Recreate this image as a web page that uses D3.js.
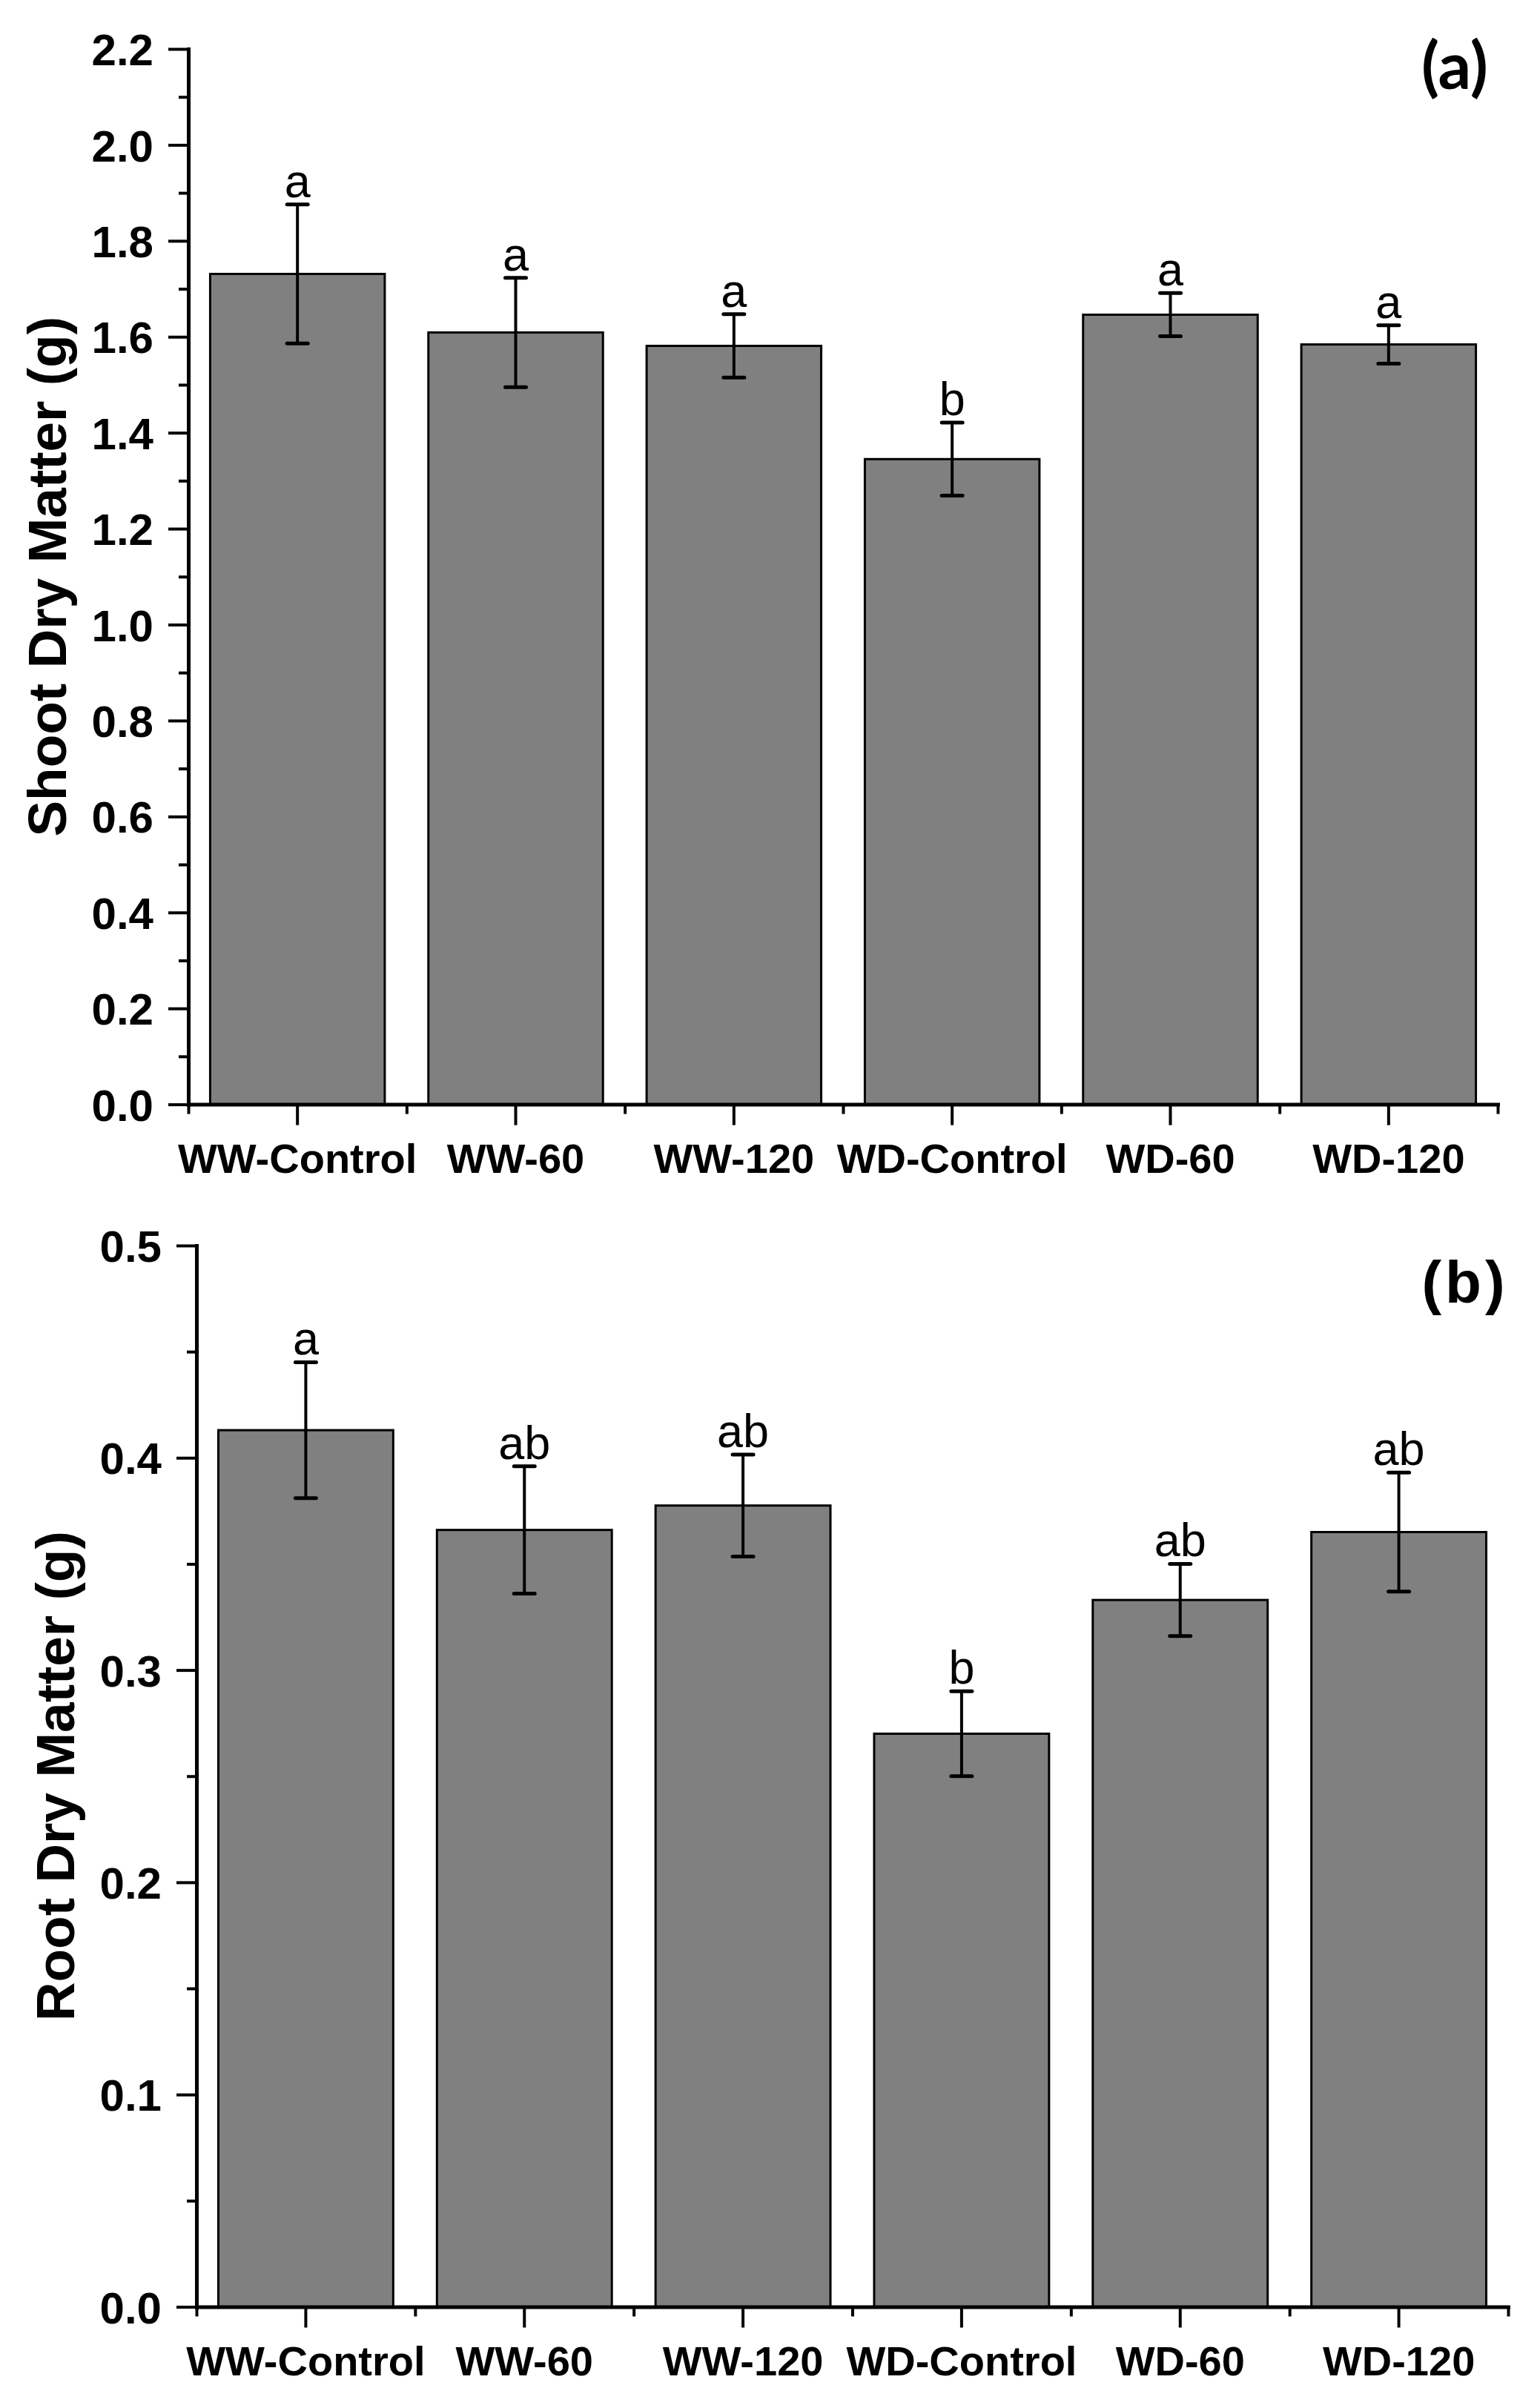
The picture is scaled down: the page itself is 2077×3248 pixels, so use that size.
<!DOCTYPE html>
<html>
<head>
<meta charset="utf-8">
<script src="https://cdn.jsdelivr.net/npm/d3@7"></script>
<style>
  body { margin: 0; background: #fff; }
  svg { display: block; }
  .tick-label { font-family: "Liberation Sans", Arial, sans-serif; font-weight: bold; }
  .letter { font-family: "Liberation Sans", Arial, sans-serif; }
  .panel-tag { font-family: Lato, "Open Sans", sans-serif; font-weight: bold; }
  .panel-tag.arial { font-family: "Liberation Sans", Arial, sans-serif; letter-spacing: 5px; }
</style>
</head>
<body>
<div id="chart"></div>
<script>
/*=====================================================================
 data
======================================================================*/
var categories = ["WW-Control", "WW-60", "WW-120", "WD-Control", "WD-60", "WD-120"];

// (a) shoot dry matter
var shootMean = [1.731, 1.609, 1.581, 1.345, 1.646, 1.584];
var shootErr = [0.145, 0.114, 0.066, 0.076, 0.045, 0.040];
var shootLetters = ["a", "a", "a", "b", "a", "a"];
var shootTicks = [0.0, 0.2, 0.4, 0.6, 0.8, 1.0, 1.2, 1.4, 1.6, 1.8, 2.0, 2.2];

// (b) root dry matter
var rootMean = [0.413, 0.366, 0.3775, 0.270, 0.333, 0.365];
var rootErr = [0.032, 0.030, 0.024, 0.020, 0.017, 0.028];
var rootLetters = ["a", "ab", "ab", "b", "ab", "ab"];
var rootTicks = [0.0, 0.1, 0.2, 0.3, 0.4, 0.5];

/*=====================================================================
 chart dimensions
======================================================================*/
var width = 2077;
var height = 3248;

var svg = d3.select("#chart")
    .append("svg")
    .attr("width", width)
    .attr("height", height);

svg.append("rect")
    .attr("width", width)
    .attr("height", height)
    .attr("fill", "#fff");

/*=====================================================================
 drawPanel()
 one bar chart with error bars, letters and axes
======================================================================*/
function drawPanel(opts) {
    var g = svg.append("g");

    var x = d3.scaleBand()
        .domain(categories)
        .range([opts.left, opts.right])
        .paddingInner(0.2)
        .paddingOuter(0.1);

    var xEdges = d3.scaleLinear()
        .domain([0, categories.length])
        .range([opts.left, opts.right]);

    var y = d3.scaleLinear()
        .domain([0, opts.max])
        .range([opts.bottom, opts.top]);

    var rows = categories.map(function (c, i) {
        return { name: c, mean: opts.mean[i], err: opts.err[i], letter: opts.letters[i] };
    });

    // bars
    g.selectAll(".bar")
        .data(rows)
        .enter()
        .append("rect")
        .attr("class", "bar")
        .attr("x", function (d) { return x(d.name); })
        .attr("y", function (d) { return y(d.mean); })
        .attr("width", x.bandwidth())
        .attr("height", function (d) { return y(0) - y(d.mean); })
        .attr("fill", "#808080")
        .attr("stroke", "#000")
        .attr("stroke-width", 3);

    // error bars
    var eb = g.selectAll(".err")
        .data(rows)
        .enter()
        .append("g")
        .attr("class", "err")
        .attr("transform", function (d) { return "translate(" + (x(d.name) + x.bandwidth() / 2) + ",0)"; });

    eb.append("line")
        .attr("y1", function (d) { return y(d.mean + d.err); })
        .attr("y2", function (d) { return y(d.mean - d.err); })
        .attr("stroke", "#000")
        .attr("stroke-width", 4);

    [1, -1].forEach(function (s) {
        eb.append("line")
            .attr("x1", -14)
            .attr("x2", 14)
            .attr("y1", function (d) { return y(d.mean + s * d.err); })
            .attr("y2", function (d) { return y(d.mean + s * d.err); })
            .attr("stroke", "#000")
            .attr("stroke-width", 5)
            .attr("stroke-linecap", "round");
    });

    // significance letters
    g.selectAll(".letter")
        .data(rows)
        .enter()
        .append("text")
        .attr("class", "letter")
        .attr("x", function (d) { return x(d.name) + x.bandwidth() / 2; })
        .attr("y", function (d) { return y(d.mean + d.err) - 10; })
        .attr("text-anchor", "middle")
        .attr("font-size", 63)
        .attr("fill", "#000")
        .text(function (d) { return d.letter; });

    // y axis, minor then major
    g.append("g")
        .attr("transform", "translate(" + opts.left + ",0)")
        .call(d3.axisLeft(y).tickValues(opts.minor).tickSize(13).tickSizeOuter(0).tickFormat(""))
        .call(styleAxis);

    var yAxis = g.append("g")
        .attr("transform", "translate(" + opts.left + ",0)")
        .call(d3.axisLeft(y).tickValues(opts.ticks).tickSize(27).tickSizeOuter(0).tickPadding(20).tickFormat(d3.format(".1f")))
        .call(styleAxis);

    yAxis.selectAll("text")
        .attr("class", "tick-label")
        .attr("font-size", 60)
        .attr("dy", "0.36em");

    // x axis, band edges then category centres
    g.append("g")
        .attr("transform", "translate(0," + opts.bottom + ")")
        .call(d3.axisBottom(xEdges).ticks(categories.length).tickSize(13).tickSizeOuter(0).tickFormat(""))
        .call(styleAxis);

    var xAxis = g.append("g")
        .attr("transform", "translate(0," + opts.bottom + ")")
        .call(d3.axisBottom(x).tickSize(28).tickSizeOuter(0).tickPadding(25))
        .call(styleAxis);

    xAxis.select(".domain").remove();

    xAxis.selectAll("text")
        .attr("class", "tick-label")
        .attr("font-size", 56);

    // axis title
    g.append("text")
        .attr("class", "tick-label")
        .attr("transform", "translate(" + (opts.left - 165) + "," + ((opts.top + opts.bottom) / 2) + ") rotate(-90)")
        .attr("text-anchor", "middle")
        .attr("font-size", 73)
        .attr("fill", "#000")
        .text(opts.title);

    // panel tag
    g.append("text")
        .attr("class", "panel-tag " + opts.tagClass)
        .attr("x", opts.right - 58)
        .attr("y", opts.tagY)
        .attr("text-anchor", "middle")
        .attr("font-size", opts.tagSize)
        .attr("fill", "#000")
        .text(opts.tag);
}

function styleAxis(sel) {
    sel.select(".domain")
        .attr("stroke", "#000")
        .attr("stroke-width", 5)
        .attr("stroke-linecap", "square");
    sel.selectAll(".tick line")
        .attr("stroke", "#000")
        .attr("stroke-width", 4);
    sel.selectAll(".tick text")
        .attr("fill", "#000");
}

/*=====================================================================
 draw both panels
======================================================================*/
drawPanel({
    left: 254, right: 2020, top: 66, bottom: 1489.6,
    max: 2.2, ticks: shootTicks,
    minor: d3.range(0.1, 2.2, 0.2),
    mean: shootMean, err: shootErr, letters: shootLetters,
    title: "Shoot Dry Matter (g)", tag: "(a)", tagY: 120, tagSize: 88, tagClass: ""
});

drawPanel({
    left: 265, right: 2034, top: 1680, bottom: 3111.5,
    max: 0.5, ticks: rootTicks,
    minor: d3.range(0.05, 0.5, 0.1),
    mean: rootMean, err: rootErr, letters: rootLetters,
    title: "Root Dry Matter (g)", tag: "(b)", tagY: 1757, tagSize: 80, tagClass: "arial"
});
</script>
</body>
</html>
